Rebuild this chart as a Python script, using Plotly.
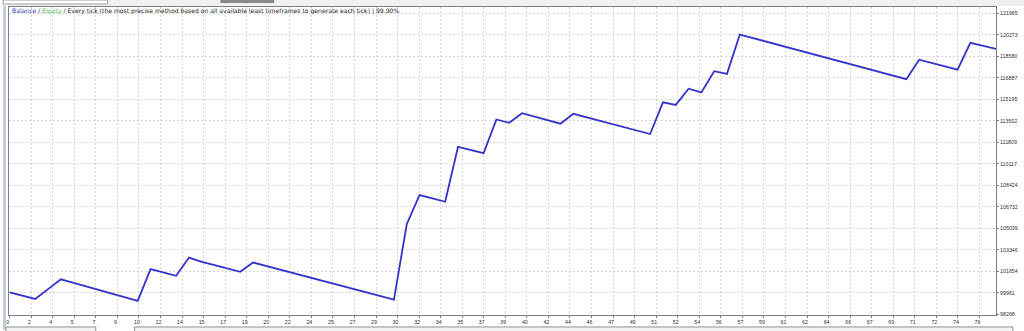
import plotly.graph_objects as go

# ---- data ----
trade_no = list(range(78))
balance = [
    99980, 99720, 99469, 100240, 101008, 100725, 100443, 100160, 99878, 99595,
    99313, 101813, 101551, 101289, 102726, 102383, 102123, 101862, 101602, 102336,
    102070, 101805, 101540, 101274, 101009, 100743, 100478, 100212, 99946, 99681,
    99415, 105351, 107647, 107385, 107124, 111444, 111197, 110951, 113607, 113349,
    114099, 113823, 113547, 113271, 114052, 113787, 113521, 113256, 112990, 112725,
    112459, 114959, 114755, 116029, 115740, 117411, 117200, 120301, 120031, 119760,
    119490, 119220, 118949, 118679, 118408, 118138, 117868, 117597, 117327, 117057,
    116786, 118317, 118057, 117796, 117536, 119645, 119410, 119176,
]
x_tick_labels = [
    "0", "2", "4", "5", "7", "9", "10", "12", "14", "15", "17", "19", "20", "22",
    "24", "25", "27", "29", "30", "32", "34", "35", "37", "39", "40", "42", "44",
    "46", "47", "49", "51", "52", "54", "56", "57", "59", "61", "62", "64", "66",
    "67", "69", "71", "72", "74", "76",
]
y_tick_values = [98268, 99961, 101654, 103346, 105039, 106732, 108424, 110117,
                 111809, 113502, 115195, 116887, 118580, 120273, 121965]

X_TICK_STEP = 1.6824  # spacing of the (uniformly placed) x grid, in trade units

W, H = 1024, 331
L, R, T, B = 6, 28, 7, 15
PW, PH = W - L - R, H - T - B


def px(x):
    return (x - L) / PW


def py(y):
    return (H - B - y) / PH


fig = go.Figure()
fig.add_trace(go.Scatter(
    x=trade_no, y=balance, mode="lines",
    line=dict(color="#3434cc", width=1.8),
    hoverinfo="skip", showlegend=False,
))

font = dict(family="Liberation Sans, Arial, sans-serif", size=5.3, color="#303030")
grid = dict(showgrid=True, gridcolor="#d6d6d6", griddash="2px,2px", gridwidth=1,
            showline=True, mirror=True, linecolor="#808080", linewidth=1,
            zeroline=False, ticks="outside", ticklen=2, tickcolor="#808080",
            tickfont=font)

fig.update_xaxes(
    range=[-0.05, 77],
    tickmode="array",
    tickvals=[k * X_TICK_STEP for k in range(len(x_tick_labels))],
    ticktext=x_tick_labels,
    ticklabelshift=-2,
    **grid,
)
fig.update_yaxes(
    side="right",
    range=[98200, 122470],
    tickmode="array",
    tickvals=y_tick_values,
    ticktext=[str(v) for v in y_tick_values],
    **grid,
)

legend_text = ('<span style="color:#3a3ac0">Balance</span> / '
               '<span style="color:#3cbc3c">Equity</span> / '
               'Every tick (the most precise method based on all available least '
               'timeframes to generate each tick) | 99.90%')
fig.add_annotation(
    xref="paper", yref="paper", x=px(7), y=py(11.5),
    xanchor="left", yanchor="middle", showarrow=False,
    text=legend_text,
    font=dict(family="DejaVu Sans, Verdana, sans-serif", size=6.1, color="#202020"),
)

shapes = [
    # top window strip
    dict(type="rect", xref="paper", yref="paper", x0=px(0), x1=px(W), y0=py(6), y1=py(0),
         fillcolor="#f0f0f0", line=dict(width=0), layer="below"),
    dict(type="rect", xref="paper", yref="paper", x0=px(0), x1=px(105), y0=py(4), y1=py(0),
         fillcolor="#ffffff", line=dict(color="#a0a0a0", width=1), layer="below"),
    dict(type="rect", xref="paper", yref="paper", x0=px(218), x1=px(272), y0=py(3), y1=py(0),
         fillcolor="#8a8a8a", line=dict(width=0), layer="below"),
    # left strip
    dict(type="rect", xref="paper", yref="paper", x0=px(0), x1=px(3), y0=py(331), y1=py(6),
         fillcolor="#c4ccd8", line=dict(width=0), layer="below"),
    # bottom window widgets
    dict(type="rect", xref="paper", yref="paper", x0=px(3), x1=px(93), y0=py(334), y1=py(328),
         fillcolor="#f4f4f4", line=dict(color="#909090", width=1), layer="below"),
    dict(type="rect", xref="paper", yref="paper", x0=px(132), x1=px(1013), y0=py(334), y1=py(328),
         fillcolor="#f4f4f4", line=dict(color="#909090", width=1), layer="below"),
]

fig.update_layout(
    width=W, height=H,
    margin=dict(l=L, r=R, t=T, b=B, pad=0),
    paper_bgcolor="#ffffff", plot_bgcolor="#ffffff",
    shapes=shapes,
    showlegend=False,
)

fig.write_html("out.html")
